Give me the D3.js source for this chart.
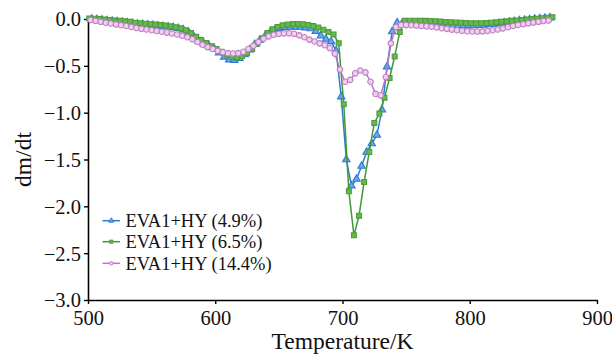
<!DOCTYPE html>
<html>
<head>
<meta charset="utf-8">
<script src="https://cdn.jsdelivr.net/npm/d3@7"></script>
<style>
  html, body { margin: 0; padding: 0; background: #fff; }
  svg { display: block; font-family: "Liberation Serif", "Times New Roman", serif; }
</style>
</head>
<body>
<svg id="chart" width="612" height="356"></svg>
<script>
// Sampling temperatures (K) for each run
const tempA = d3.range(503, 864, 4);   // EVA1+HY (4.9%)
const tempB = d3.range(501, 866, 4);   // EVA1+HY (6.5%)
const tempC = d3.range(502, 863, 4);   // EVA1+HY (14.4%)

// dm/dt values
const dmdtA = [
  0.0, -0.005, -0.01, -0.017, -0.023, -0.028, -0.033, -0.04, -0.047, -0.053,
  -0.058, -0.063, -0.068, -0.073, -0.078, -0.084, -0.09, -0.1, -0.115, -0.14,
  -0.185, -0.235, -0.265, -0.285, -0.31, -0.36, -0.405, -0.435, -0.44, -0.42,
  -0.38, -0.33, -0.27, -0.225, -0.185, -0.145, -0.115, -0.098, -0.09, -0.086,
  -0.085, -0.087, -0.093, -0.103, -0.13, -0.18, -0.215, -0.24, -0.34, -0.83,
  -1.50, -1.78, -1.71, -1.57, -1.42, -1.33, -1.24, -0.97, -0.51, -0.135,
  -0.04, -0.045, -0.048, -0.05, -0.052, -0.054, -0.056, -0.058, -0.06, -0.062,
  -0.065, -0.068, -0.07, -0.072, -0.072, -0.07, -0.068, -0.065, -0.06, -0.055,
  -0.048, -0.04, -0.032, -0.025, -0.018, -0.012, -0.006, 0.0, 0.005, 0.01,
  0.014
];
const dmdtB = [
  0.005, 0.003, 0.0, -0.005, -0.01, -0.015, -0.02, -0.025, -0.03, -0.04,
  -0.045, -0.05, -0.055, -0.06, -0.065, -0.07, -0.078, -0.088, -0.1, -0.12,
  -0.15, -0.19, -0.225, -0.255, -0.29, -0.32, -0.35, -0.38, -0.405, -0.41,
  -0.395, -0.365, -0.32, -0.265, -0.205, -0.15, -0.11, -0.085, -0.068, -0.058,
  -0.053, -0.053, -0.057, -0.065, -0.075, -0.09, -0.115, -0.14, -0.165, -0.26,
  -0.91, -1.84, -2.31, -2.10, -1.74, -1.42, -1.11, -1.01, -0.84, -0.63,
  -0.40, -0.14, -0.02, -0.018, -0.018, -0.019, -0.02, -0.022, -0.025, -0.028,
  -0.031, -0.034, -0.037, -0.04, -0.043, -0.045, -0.046, -0.045, -0.043, -0.04,
  -0.035, -0.03, -0.025, -0.02, -0.016, -0.011, -0.006, -0.001, 0.004, 0.009,
  0.014, 0.018
];
const dmdtC = [
  -0.01, -0.02, -0.03, -0.04, -0.048, -0.057, -0.066, -0.075, -0.085, -0.095,
  -0.105, -0.112, -0.12, -0.128, -0.136, -0.145, -0.155, -0.165, -0.178, -0.195,
  -0.215, -0.245, -0.275, -0.30, -0.32, -0.34, -0.355, -0.365, -0.368, -0.365,
  -0.35, -0.32, -0.285, -0.245, -0.21, -0.185, -0.168, -0.158, -0.153, -0.153,
  -0.158, -0.175, -0.195, -0.22, -0.24, -0.26, -0.28, -0.31, -0.37, -0.54,
  -0.67, -0.65, -0.58, -0.55, -0.57, -0.67, -0.80, -0.815, -0.62, -0.26,
  -0.085, -0.065, -0.065, -0.067, -0.07, -0.074, -0.078, -0.083, -0.09, -0.098,
  -0.105, -0.113, -0.12, -0.125, -0.13, -0.133, -0.134, -0.132, -0.127, -0.12,
  -0.112, -0.1, -0.088, -0.075, -0.064, -0.055, -0.046, -0.038, -0.03, -0.022,
  -0.015
];

const seriesNames = ["EVA1+HY (4.9%)", "EVA1+HY (6.5%)", "EVA1+HY (14.4%)"];
const xTicks = [500, 600, 700, 800, 900];
const yTicks = [0, -0.5, -1.0, -1.5, -2.0, -2.5, -3.0];

const styles = [
  { line: "#2d7ad6", stroke: "#2d7ad6", fill: "#6ea6ea", shape: d3.symbolTriangle, size: 24, legendSize: 11 },
  { line: "#3f9a34", stroke: "#4c9e3c", fill: "#66b84c", shape: d3.symbolSquare, size: 24, legendSize: 10 },
  { line: "#b877c0", stroke: "#c07cc6", fill: "#ecd2ec", shape: d3.symbolCircle, size: 24, legendSize: 10 }
];

const series = [
  { name: seriesNames[0], t: tempA, v: dmdtA },
  { name: seriesNames[1], t: tempB, v: dmdtB },
  { name: seriesNames[2], t: tempC, v: dmdtC }
];

const margin = { left: 88, right: 15, top: 19, bottom: 56 };
const W = 612, H = 356;
const svg = d3.select("#chart");

const x = d3.scaleLinear().domain([500, 900]).range([margin.left, W - margin.right]);
const y = d3.scaleLinear().domain([-3, 0]).range([H - margin.bottom, margin.top]);

// Axes
const xAxis = d3.axisBottom(x).tickValues(xTicks).tickFormat(d3.format("d"))
  .tickSizeInner(4).tickSizeOuter(0).tickPadding(6);
const yAxis = d3.axisLeft(y).tickValues(yTicks).tickFormat(d3.format(".1f"))
  .tickSizeInner(4).tickSizeOuter(0).tickPadding(3);

const gx = svg.append("g").attr("transform", `translate(0,${y(-3)})`).call(xAxis);
const gy = svg.append("g").attr("transform", `translate(${x(500)},0)`).call(yAxis);

[gx, gy].forEach(g => {
  g.select(".domain").attr("stroke", "#000").attr("stroke-width", 1.6);
  g.selectAll(".tick line").attr("stroke", "#000").attr("stroke-width", 1.4);
  g.selectAll(".tick text").attr("fill", "#111").style("font-size", "20.5px")
    .style("font-family", "'Liberation Serif', 'Times New Roman', serif");
});
gy.selectAll(".tick text").attr("dy", "0.34em");

// Axis titles
svg.append("text")
  .attr("x", (x(500) + x(900)) / 2).attr("y", 349)
  .attr("text-anchor", "middle").attr("fill", "#111")
  .style("font-size", "23.5px")
  .text("Temperature/K");

svg.append("text")
  .attr("transform", `translate(31,${(y(0) + y(-3)) / 2}) rotate(-90)`)
  .attr("text-anchor", "middle").attr("fill", "#111")
  .style("font-size", "23.5px")
  .text("dm/dt");

// Curves with markers
const line = d3.line().x(d => x(d[0])).y(d => y(d[1]));

series.forEach((s, i) => {
  const st = styles[i];
  const pts = s.t.map((t, k) => [t, s.v[k]]);
  const g = svg.append("g");
  g.append("path").datum(pts)
    .attr("d", line).attr("fill", "none")
    .attr("stroke", st.line).attr("stroke-width", 1.5)
    .attr("stroke-linejoin", "round");
  g.selectAll("path.m").data(pts).join("path")
    .attr("class", "m")
    .attr("transform", d => `translate(${x(d[0])},${y(d[1])})`)
    .attr("d", d3.symbol().type(st.shape).size(st.size))
    .attr("fill", st.fill).attr("stroke", st.stroke).attr("stroke-width", 1.1);
});

// Legend
const legend = svg.append("g");
const legendY = [220.7, 241.7, 263.3];
series.forEach((s, i) => {
  const st = styles[i];
  const row = legend.append("g").attr("transform", `translate(0,${legendY[i]})`);
  row.append("line").attr("x1", 102.5).attr("x2", 120).attr("y1", 0).attr("y2", 0)
    .attr("stroke", st.line).attr("stroke-width", 1.5);
  row.append("path").attr("transform", "translate(111.3,0)")
    .attr("d", d3.symbol().type(st.shape).size(st.legendSize))
    .attr("fill", st.fill).attr("stroke", st.stroke).attr("stroke-width", 1);
  row.append("text").attr("x", 125.5).attr("y", 0).attr("dy", "0.34em")
    .attr("fill", "#111").style("font-size", "18.5px")
    .text(s.name);
});
</script>
</body>
</html>
